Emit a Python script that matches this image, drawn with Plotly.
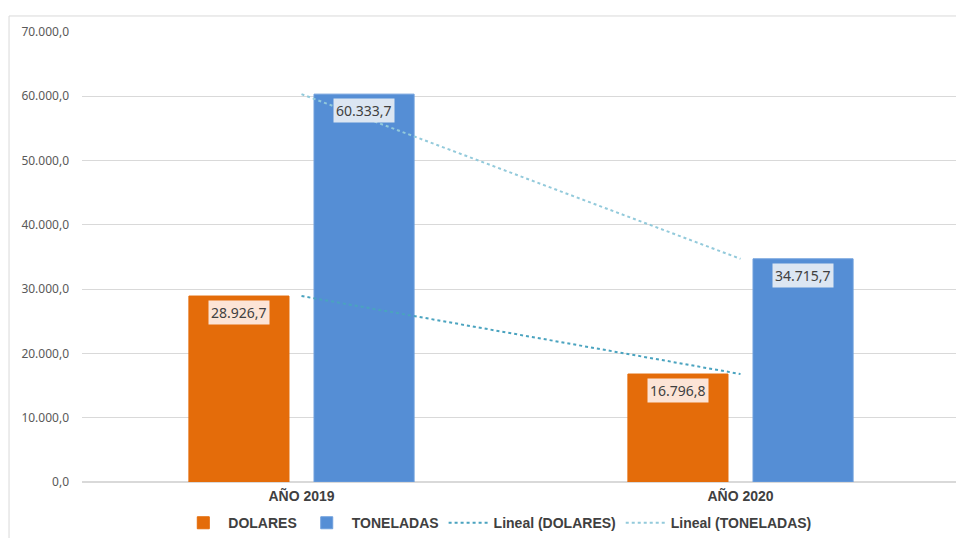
import numpy as np
import plotly.graph_objects as go

categories = ["AÑO 2019", "AÑO 2020"]
dolares = [28926.7, 16796.8]
toneladas = [60333.7, 34715.7]
y_ticks = [0, 10000, 20000, 30000, 40000, 50000, 60000, 70000]

ORANGE = "#E46C0A"
BLUE = "#558ED5"


def fmt(v):
    s = f"{v:,.1f}"
    return s.replace(",", "X").replace(".", ",").replace("X", ".")


def trend(vals):
    idx = np.arange(len(vals))
    m, b = np.polyfit(idx, vals, 1)
    return list(m * idx + b)


fig = go.Figure()
fig.add_trace(go.Bar(x=categories, y=dolares, name="DOLARES",
                     marker=dict(color=ORANGE, line=dict(color=ORANGE, width=1))))
fig.add_trace(go.Bar(x=categories, y=toneladas, name="TONELADAS",
                     marker=dict(color=BLUE, line=dict(color="#6E9FDC", width=1))))
fig.add_trace(go.Scatter(x=categories, y=trend(dolares), mode="lines",
                         name="Lineal (DOLARES)",
                         line=dict(color="#4AA3BF", width=2, dash="dot")))
fig.add_trace(go.Scatter(x=categories, y=trend(toneladas), mode="lines",
                         name="Lineal (TONELADAS)",
                         line=dict(color="#93CADB", width=2, dash="dot")))

label_font = dict(family="Noto Sans, Liberation Sans", size=14, color="#404040")
annotations = []
for cat, v in zip(categories, dolares):
    annotations.append(dict(x=cat, y=v, xref="x", yref="y", text=fmt(v),
                            showarrow=False, yanchor="top", xshift=-62.5, yshift=-4,
                            bgcolor="#FCE4D6", borderpad=2, font=label_font))
for cat, v in zip(categories, toneladas):
    annotations.append(dict(x=cat, y=v, xref="x", yref="y", text=fmt(v),
                            showarrow=False, yanchor="top", xshift=62.5, yshift=-4,
                            bgcolor="#DCE6F2", borderpad=2, font=label_font))

fig.update_layout(
    width=956, height=530,
    margin=dict(l=74, r=4, t=24, b=56),
    paper_bgcolor="white", plot_bgcolor="white",
    separators=",.",
    barmode="group", bargap=0.43, bargroupgap=0.2,
    showlegend=True,
    legend=dict(orientation="h", x=0.473, xanchor="center",
                yref="container", y=0.028, yanchor="middle",
                font=dict(family="Liberation Sans, Arial", size=14, color="#404040",
                          weight="bold"),
                itemwidth=40, tracegroupgap=0),
    annotations=annotations,
    shapes=[dict(type="rect", xref="paper", yref="paper",
                 x0=-0.0831, x1=1.2, y0=-0.3, y1=1.0356,
                 line=dict(color="#D9D9D9", width=1), fillcolor="rgba(0,0,0,0)",
                 layer="below")],
)
fig.update_yaxes(range=[0, 70000], tickvals=y_ticks, tickformat=",.1f",
                 showgrid=True, gridcolor="#D9D9D9", gridwidth=1,
                 zeroline=True, zerolinecolor="#D9D9D9", showline=False,
                 ticks="", ticklabelstandoff=12, automargin=False,
                 tickfont=dict(family="Noto Sans, Liberation Sans", size=12, color="#595959"))
fig.update_xaxes(showgrid=False, showline=False, ticks="", automargin=False,
                 ticklabelstandoff=4,
                 tickfont=dict(family="Liberation Sans, Arial", size=14, color="#404040",
                               weight="bold"))

fig.write_html("out.html")
